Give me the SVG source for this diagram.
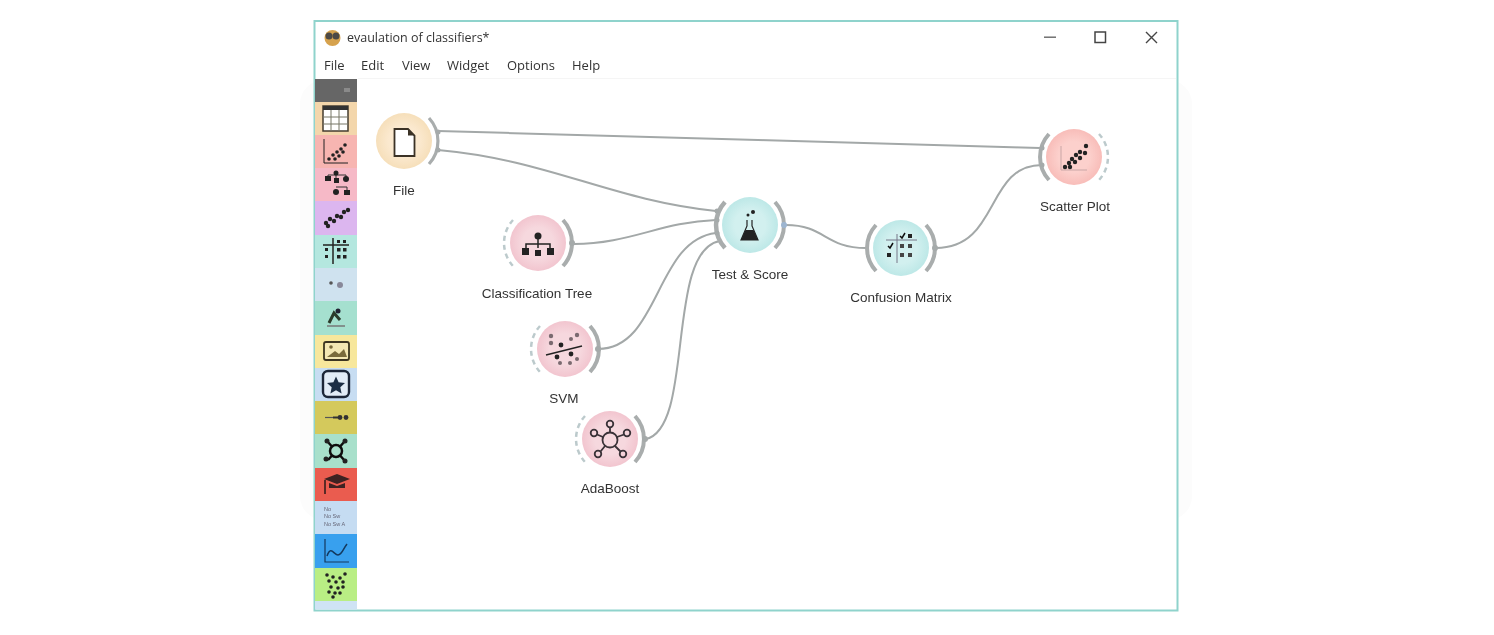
<svg xmlns="http://www.w3.org/2000/svg" width="1494" height="635" viewBox="0 0 1494 635">
<style>
text{font-family:"Liberation Sans",Arial,sans-serif;fill:#2b2b2b}
.menu{font-family:"Open Sans","Liberation Sans",sans-serif;font-size:13px;fill:#333}
.lbl{font-size:13.500px;text-anchor:middle;fill:#333}
.conn{fill:none;stroke:#a3a8a8;stroke-width:2}
.arc{fill:none;stroke:#a9adad;stroke-width:4}
.in{fill:none;stroke:#bccaCC;stroke-width:2.500;stroke-dasharray:5 4}
.ic{fill:#222}
.icl{fill:none;stroke:#222;stroke-width:1.600}
.port{fill:#a5aaaa}
</style>
<defs>
<filter id="soft" x="-5%" y="-5%" width="110%" height="110%"><feGaussianBlur stdDeviation="0.7"/></filter>
<radialGradient id="gf"><stop offset="0.55" stop-color="#fbe9cf"/><stop offset="1" stop-color="#f6dfba"/></radialGradient>
<radialGradient id="gp"><stop offset="0.55" stop-color="#f6d8de"/><stop offset="1" stop-color="#f2c5cf"/></radialGradient>
<radialGradient id="gt"><stop offset="0.55" stop-color="#d2f0ef"/><stop offset="1" stop-color="#bde8e7"/></radialGradient>
<radialGradient id="gr"><stop offset="0.55" stop-color="#fcd0cc"/><stop offset="1" stop-color="#f8bdb9"/></radialGradient>
</defs>
<rect width="1494" height="635" fill="#fff"/>
<rect x="300" y="80" width="892" height="440" rx="24" fill="#fcfcfc"/>
<g id="window">
<rect x="314.500" y="21" width="863" height="589.500" fill="#fff" stroke="#8fd3cc" stroke-width="2"/>
<rect x="358" y="78" width="818" height="1" fill="#f5f5f5"/>
</g>
<g id="titlebar" filter="url(#soft)">
<circle cx="332.500" cy="38" r="8" fill="#d6a24e"/>
<circle cx="329" cy="36" r="3.500" fill="#4d4a44"/><circle cx="336" cy="36" r="3.500" fill="#4d4a44"/>
<text x="347" y="42" style="font-family:'Open Sans','Liberation Sans',sans-serif;font-size:12.500px;fill:#333">evaulation of classifiers*</text>
<rect x="1044" y="36.500" width="12" height="1.400" fill="#666"/>
<rect x="1095" y="32" width="10.500" height="10.500" fill="none" stroke="#444" stroke-width="1.500"/>
<path d="M1146 32 L1157 43 M1157 32 L1146 43" stroke="#444" stroke-width="1.400" fill="none"/>
<text class="menu" x="324" y="70">File</text>
<text class="menu" x="361" y="70">Edit</text>
<text class="menu" x="402" y="70">View</text>
<text class="menu" x="447" y="70">Widget</text>
<text class="menu" x="507" y="70">Options</text>
<text class="menu" x="572" y="70">Help</text>
</g>
<g id="toolbar" filter="url(#soft)">
<rect x="315" y="79" width="42" height="23" fill="#666"/>
<rect x="344" y="88" width="6" height="4" fill="#8a8a8a"/>
<rect x="315" y="102" width="42" height="33" fill="#f3d6ab"/>
<rect x="323" y="106" width="25" height="25" fill="#fff" stroke="#443c30" stroke-width="1.500"/>
<rect x="323" y="106" width="25" height="4" fill="#333"/>
<path d="M331 110V131M339 110V131M323 117H348M323 124H348" stroke="#776" stroke-width="1"/>
<rect x="315" y="135" width="42" height="33" fill="#f7b5b1"/>
<path d="M324 139V163H348" class="icl" style="stroke-width:1"/>
<g class="ic"><circle cx="329" cy="159" r="1.800"/><circle cx="333" cy="155" r="1.800"/><circle cx="337" cy="152" r="1.800"/><circle cx="341" cy="149" r="1.800"/><circle cx="345" cy="145" r="1.800"/><circle cx="335" cy="159" r="1.800"/><circle cx="339" cy="156" r="1.800"/><circle cx="343" cy="152" r="1.800"/></g>
<rect x="315" y="168" width="42" height="33" fill="#f6b9c7"/>
<path d="M328 177V175H346V178M336 174V179M336 187H347V190" fill="none" stroke="#333" stroke-width="1"/>
<g class="ic"><circle cx="336" cy="173" r="2.500"/><rect x="325" y="176" width="6" height="5"/><rect x="334" y="178" width="5" height="5"/><circle cx="346" cy="179" r="3"/><circle cx="336" cy="192" r="3"/><rect x="344" y="190" width="6" height="5"/></g>
<rect x="315" y="201" width="42" height="34" fill="#dcb6ef"/>
<g class="ic"><circle cx="326" cy="223" r="2.200"/><circle cx="330" cy="219" r="2.200"/><circle cx="334" cy="221" r="2.200"/><circle cx="337" cy="216" r="2.200"/><circle cx="341" cy="217" r="2.200"/><circle cx="344" cy="212" r="2.200"/><circle cx="348" cy="210" r="2.200"/><circle cx="328" cy="226" r="2.200"/></g>
<rect x="315" y="235" width="42" height="33" fill="#b4e7df"/>
<path d="M333 238V264M323 245H349" stroke="#222" stroke-width="1.500"/>
<g class="ic"><rect x="325" y="248" width="3" height="3"/><rect x="325" y="255" width="3" height="3"/><rect x="337" y="240" width="3" height="3"/><rect x="343" y="240" width="3" height="3"/><rect x="337" y="248" width="3.500" height="3.500"/><rect x="343" y="248" width="3.500" height="3.500"/><rect x="337" y="255" width="3.500" height="3.500"/><rect x="343" y="255" width="3.500" height="3.500"/></g>
<rect x="315" y="268" width="42" height="33" fill="#cfe2ef"/>
<circle cx="331" cy="283" r="1.800" fill="#555"/><circle cx="340" cy="285" r="3" fill="#889"/>
<rect x="315" y="301" width="42" height="34" fill="#a5e0cf"/>
<path d="M329 323L334 313L340 320" fill="none" stroke="#2b3a2b" stroke-width="3"/><circle cx="338" cy="311" r="2.500" fill="#223"/><path d="M327 326H345" stroke="#777" stroke-width="1.500"/>
<rect x="315" y="335" width="42" height="33" fill="#f7e79c"/>
<rect x="324" y="342" width="25" height="18" rx="2" fill="#f4e7b3" stroke="#3d3520" stroke-width="1.800"/>
<path d="M327 357L335 351L339 354L344 349L347 357Z" fill="#7a6a3a"/><circle cx="331" cy="347" r="1.800" fill="#7a6a3a"/>
<rect x="315" y="368" width="42" height="33" fill="#c7ddf2"/>
<rect x="323" y="371" width="26" height="26" rx="5" fill="#e2ecf7" stroke="#1b2738" stroke-width="2.400"/>
<path d="M336 376.500L338.600 382.300L345 383L340.300 387.200L341.600 393.500L336 390.300L330.400 393.500L331.700 387.200L327 383L333.400 382.300Z" fill="#1f2f44"/>
<rect x="315" y="401" width="42" height="33" fill="#d4c95c"/>
<path d="M325 417.500H333" stroke="#555" stroke-width="1.200"/><path d="M333 417.500H339" stroke="#333" stroke-width="2"/><circle cx="340" cy="417.500" r="2.400" fill="#333"/><circle cx="346" cy="417.500" r="2.400" fill="#333"/>
<rect x="315" y="434" width="42" height="34" fill="#a8e0cb"/>
<path d="M327 441L345 461M345 441L328 460" stroke="#111" stroke-width="2.500"/>
<circle cx="336" cy="451" r="6" fill="#a8e0cb" stroke="#111" stroke-width="2.500"/>
<g class="ic"><circle cx="327" cy="441" r="2.500"/><circle cx="345" cy="441" r="2.500"/><circle cx="326" cy="459" r="2.500"/><circle cx="345" cy="461" r="2.500"/></g>
<rect x="315" y="468" width="42" height="33" fill="#ea5c50"/>
<path d="M324 479L337 474L350 479L337 484Z" fill="#3d2320"/><path d="M329 483V488H345V483L337 486Z" fill="#3d2320"/><path d="M325 480V494" stroke="#5a2a25" stroke-width="2"/>
<rect x="315" y="501" width="42" height="33" fill="#c5dcf2"/>
<text x="324" y="511" font-size="5.500" style="fill:#667">No</text>
<text x="324" y="518" font-size="5.500" style="fill:#667">No Sw</text>
<text x="324" y="526" font-size="5.500" style="fill:#667">No Sw A</text>
<rect x="315" y="534" width="42" height="34" fill="#38a0ee"/>
<path d="M325 539V562H349" fill="none" stroke="#12395e" stroke-width="1.200"/>
<path d="M327 556C331 545 334 555 338 555C342 555 343 549 347 544" fill="none" stroke="#12395e" stroke-width="1.500"/>
<rect x="315" y="568" width="42" height="33" fill="#b9ee84"/>
<g class="ic"><circle cx="327" cy="575" r="1.800"/><circle cx="333" cy="577" r="1.800"/><circle cx="340" cy="578" r="1.800"/><circle cx="345" cy="574" r="1.800"/><circle cx="329" cy="581" r="1.800"/><circle cx="336" cy="582" r="1.800"/><circle cx="343" cy="582" r="1.800"/><circle cx="331" cy="587" r="1.800"/><circle cx="338" cy="588" r="1.800"/><circle cx="343" cy="587" r="1.800"/><circle cx="329" cy="592" r="1.800"/><circle cx="335" cy="593" r="1.800"/><circle cx="340" cy="593" r="1.800"/><circle cx="333" cy="597" r="1.800"/></g>
<rect x="315" y="601" width="42" height="8.500" fill="#cfe3f4"/>
</g>
<g id="connectors" filter="url(#soft)">
<path class="conn" d="M438 131C640 135 840 143 1040 148"/>
<path class="conn" d="M438 150C550 160 610 200 716 211"/>
<path class="conn" d="M574 244C630 244 660 222 716 220"/>
<path class="conn" d="M598 349C660 349 655 240 716 233"/>
<path class="conn" d="M646 439C695 428 665 250 720 241"/>
<path class="conn" d="M786 225C825 225 825 248 866 248"/>
<path class="conn" d="M936 248C1000 248 985 165 1042 165"/>
</g>
<g id="node-file" filter="url(#soft)">
<circle cx="404" cy="141" r="28" fill="url(#gf)"/>
<path class="arc" style="stroke-width:3.200" d="M429 118A34 34 0 0 1 429 164"/>
<circle class="port" cx="438" cy="132" r="2.500"/><circle class="port" cx="438" cy="150" r="2.500"/>
<path d="M394.500 129H408L414.500 135.500V156H394.500Z" fill="#fff" stroke="#3a3228" stroke-width="1.800"/>
<path d="M408 129V135.500H414.500Z" fill="#3a3228"/>
<text class="lbl" x="404" y="195">File</text>
</g>
<g id="node-tree" filter="url(#soft)">
<circle cx="538" cy="243" r="28" fill="url(#gp)"/>
<path class="in" d="M513 220A34 34 0 0 0 513 266"/>
<path class="arc" d="M563 220A34 34 0 0 1 563 266"/>
<circle class="port" cx="572" cy="243" r="3"/>
<path d="M538 236V248M526 250V244H550V250" fill="none" stroke="#222" stroke-width="1.500"/>
<circle class="ic" cx="538" cy="236" r="3.500"/>
<rect class="ic" x="522" y="248" width="7" height="7"/><rect class="ic" x="535" y="250" width="6" height="6"/><rect class="ic" x="547" y="248" width="7" height="7"/>
<text class="lbl" x="537" y="298">Classification Tree</text>
</g>
<g id="node-svm" filter="url(#soft)">
<circle cx="565" cy="349" r="28" fill="url(#gp)"/>
<path class="in" d="M540 326A34 34 0 0 0 540 372"/>
<path class="arc" d="M590 326A34 34 0 0 1 590 372"/>
<circle class="port" cx="598" cy="349" r="3"/>
<path d="M546 355L582 346" stroke="#222" stroke-width="1.600"/>
<g fill="#7a6a70"><circle cx="551" cy="336" r="2.200"/><circle cx="551" cy="343" r="2.200"/><circle cx="577" cy="335" r="2.200"/><circle cx="571" cy="339" r="2"/><circle cx="560" cy="363" r="2"/><circle cx="570" cy="363" r="2"/><circle cx="577" cy="359" r="2"/></g>
<g class="ic"><circle cx="561" cy="345" r="2.400"/><circle cx="557" cy="357" r="2.400"/><circle cx="571" cy="354" r="2.400"/></g>
<text class="lbl" x="564" y="403">SVM</text>
</g>
<g id="node-adaboost" filter="url(#soft)">
<circle cx="610" cy="439" r="28" fill="url(#gp)"/>
<path class="in" d="M585 416A34 34 0 0 0 585 462"/>
<path class="arc" d="M635 416A34 34 0 0 1 635 462"/>
<circle class="port" cx="645" cy="439" r="3"/>
<g fill="none" stroke="#3a3338" stroke-width="1.800">
<circle cx="610" cy="440" r="7.500"/><circle cx="610" cy="424" r="3.300"/><circle cx="594" cy="433" r="3.300"/><circle cx="627" cy="433" r="3.300"/><circle cx="598" cy="454" r="3.300"/><circle cx="623" cy="454" r="3.300"/>
<path d="M610 432.500V427.500M603 437L597 434.500M617 437L624 434.500M605 446L600.500 451.500M615 446L620.500 451.500"/>
</g>
<text class="lbl" x="610" y="493">AdaBoost</text>
</g>
<g id="node-testscore" filter="url(#soft)">
<circle cx="750" cy="225" r="28" fill="url(#gt)"/>
<path class="arc" style="stroke-width:4.500" d="M725 202A34 34 0 0 0 725 248"/>
<path class="arc" d="M775 202A34 34 0 0 1 775 248"/>
<circle cx="784" cy="225" r="3" fill="#9db5d0"/>
<circle class="port" cx="717" cy="211" r="2.500"/><circle class="port" cx="717" cy="220" r="2.500"/><circle class="port" cx="717" cy="233" r="2.500"/>
<path d="M747 220V226L741 240H758L752 226V220" fill="none" stroke="#222" stroke-width="1.200"/>
<path d="M745.500 230H753.500L758 240H741Z" fill="#222"/>
<circle class="ic" cx="753" cy="212" r="2"/><circle class="ic" cx="748" cy="215" r="1.500"/>
<text class="lbl" x="750" y="279">Test &amp; Score</text>
</g>
<g id="node-confusion" filter="url(#soft)">
<circle cx="901" cy="248" r="28" fill="url(#gt)"/>
<path class="arc" d="M876 225A34 34 0 0 0 876 271"/>
<path class="arc" d="M926 225A34 34 0 0 1 926 271"/>
<circle class="port" cx="935" cy="248" r="3"/>
<path d="M886 240H917M897 234V263" stroke="#778" stroke-width="1"/>
<path d="M900 236L902 238L905 233M888 246L890 248L893 243" fill="none" stroke="#111" stroke-width="1.500"/>
<g class="ic"><rect x="908" y="234" width="4" height="4"/><rect x="887" y="253" width="4" height="4"/></g>
<g fill="#444"><rect x="900" y="244" width="4" height="4"/><rect x="908" y="244" width="4" height="4"/><rect x="900" y="253" width="4" height="4"/><rect x="908" y="253" width="4" height="4"/></g>
<text class="lbl" x="901" y="302">Confusion Matrix</text>
</g>
<g id="node-scatter" filter="url(#soft)">
<circle cx="1074" cy="157" r="28" fill="url(#gr)"/>
<path class="arc" d="M1049 134A34 34 0 0 0 1049 180"/>
<path class="in" d="M1099 134A34 34 0 0 1 1099 180"/>
<circle class="port" cx="1042" cy="148" r="2.500"/><circle class="port" cx="1042" cy="165" r="2.500"/>
<path d="M1061 146V170H1087" fill="none" stroke="#c9a6a6" stroke-width="1"/>
<g class="ic"><circle cx="1065" cy="167" r="2.200"/><circle cx="1069" cy="163" r="2.200"/><circle cx="1072" cy="159" r="2.200"/><circle cx="1076" cy="155" r="2.200"/><circle cx="1080" cy="152" r="2.200"/><circle cx="1086" cy="146" r="2.200"/><circle cx="1070" cy="167" r="2.200"/><circle cx="1075" cy="162" r="2.200"/><circle cx="1080" cy="158" r="2.200"/><circle cx="1085" cy="153" r="2.200"/></g>
<text class="lbl" x="1075" y="211">Scatter Plot</text>
</g>
</svg>
